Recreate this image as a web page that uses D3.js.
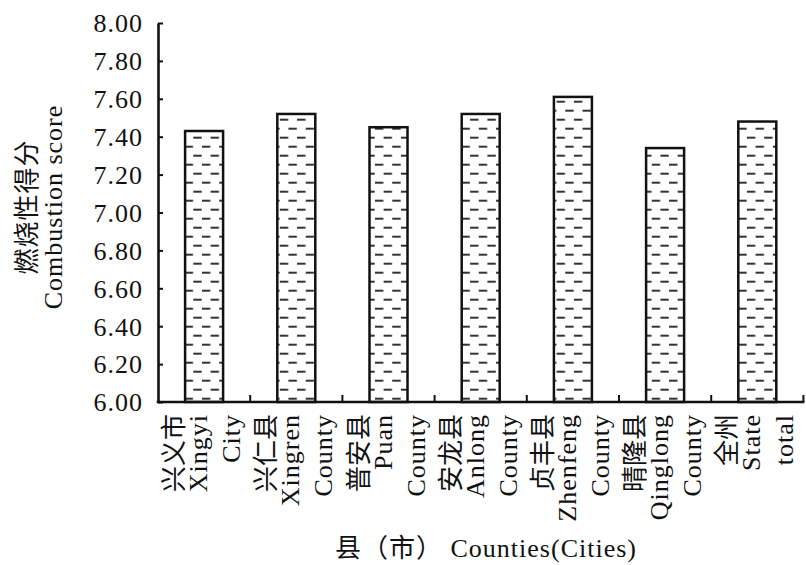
<!DOCTYPE html>
<html>
<head>
<meta charset="utf-8">
<script src="https://cdn.jsdelivr.net/npm/d3@7"></script>
<style>
  html, body { margin: 0; padding: 0; background: #fff; }
  svg { display: block; }
  text { font-family: "Liberation Serif", "Noto Sans CJK SC", serif; fill: #111; }
</style>
</head>
<body>
<svg id="chart" width="806" height="565"></svg>
<script>
// ---- data ----
const categories = ["Xingyi City", "Xingren County", "Puan County", "Anlong County", "Zhenfeng County", "Qinglong County", "State total"];
const labelCN = ["兴义市", "兴仁县", "普安县", "安龙县", "贞丰县", "晴隆县", "全州"];
const labelEN1 = ["Xingyi", "Xingren", "Puan", "Anlong", "Zhenfeng", "Qinglong", "State"];
const labelEN2 = ["City", "County", "County", "County", "County", "County", "total"];
const scores = [7.43, 7.52, 7.45, 7.52, 7.61, 7.34, 7.48];
const yTicks = [6.00, 6.20, 6.40, 6.60, 6.80, 7.00, 7.20, 7.40, 7.60, 7.80, 8.00];
const yTitleCN = "燃烧性得分";
const yTitleEN = "Combustion score";
const xTitle = "县（市） Counties(Cities)";

// ---- layout ----
const svg = d3.select("#chart");
const plotLeft = 158, plotRight = 803.4, plotTop = 23, plotBottom = 402;
const ink = "#111";

const x = d3.scaleBand().domain(categories).range([plotLeft, plotRight]).padding(0);
const y = d3.scaleLinear().domain([6, 8]).range([plotBottom, plotTop]);

// pattern
const defs = svg.append("defs");
const pw = 17.3, ph = 18;
const pat = defs.append("pattern")
  .attr("id", "dash")
  .attr("patternUnits", "userSpaceOnUse")
  .attr("width", pw).attr("height", ph)
  .attr("x", 193.3 % pw).attr("y", (334.7) % ph);
pat.append("rect").attr("width", pw).attr("height", ph).attr("fill", "#fff");
pat.append("rect").attr("x", 0).attr("y", 0).attr("width", 8.4).attr("height", 2).attr("fill", "#333");
pat.append("rect").attr("x", pw / 2).attr("y", ph / 2).attr("width", 8.4).attr("height", 2).attr("fill", "#333");

// bars
const barW = 38;
svg.append("g").selectAll("rect")
  .data(categories)
  .join("rect")
  .attr("x", (d) => x(d) + x.bandwidth() / 2 - barW / 2)
  .attr("y", (d, i) => y(scores[i]))
  .attr("width", barW)
  .attr("height", (d, i) => y(6) - y(scores[i]))
  .attr("fill", "url(#dash)")
  .attr("stroke", ink)
  .attr("stroke-width", 2.5);

// y axis
const yAxis = d3.axisLeft(y)
  .tickValues(yTicks)
  .tickSize(-5)
  .tickSizeOuter(0)
  .tickPadding(15)
  .tickFormat((d) => d.toFixed(2));
const gy = svg.append("g").attr("transform", `translate(${plotLeft},0)`).call(yAxis);
gy.select(".domain").attr("stroke", ink).attr("stroke-width", 2.6);
gy.selectAll(".tick line").attr("stroke", ink).attr("stroke-width", 2);
gy.selectAll(".tick text")
  .attr("font-size", 26)
  .attr("font-family", "'Liberation Serif', serif")
  .attr("letter-spacing", 1)
  .attr("fill", ink)
  .attr("dy", "0.34em");

// x axis line
svg.append("line")
  .attr("x1", plotLeft - 1.3).attr("x2", plotRight + 1)
  .attr("y1", plotBottom).attr("y2", plotBottom)
  .attr("stroke", ink).attr("stroke-width", 2.6);

// x ticks at band boundaries (pointing up)
svg.append("g").selectAll("line")
  .data(categories)
  .join("line")
  .attr("x1", (d) => x(d) + x.bandwidth())
  .attr("x2", (d) => x(d) + x.bandwidth())
  .attr("y1", plotBottom)
  .attr("y2", plotBottom - 7)
  .attr("stroke", ink).attr("stroke-width", 2);

// x category labels (rotated, 3 lines each)
const labelTop = 414;
const lines = [
  { arr: labelCN, off: -21, ls: 0 },
  { arr: labelEN1, off: 3, ls: 1 },
  { arr: labelEN2, off: 36, ls: 1 }
];
lines.forEach((ln) => {
  svg.append("g").selectAll("text")
    .data(categories)
    .join("text")
    .attr("transform", (d) => `translate(${x(d) + x.bandwidth() / 2 + ln.off},${labelTop}) rotate(-90)`)
    .attr("text-anchor", "end")
    .attr("font-size", 26)
    .attr("letter-spacing", ln.ls)
    .text((d, i) => ln.arr[i]);
});

// y title
const yMid = 207;
svg.append("text")
  .attr("transform", `translate(36,${yMid}) rotate(-90)`)
  .attr("text-anchor", "middle")
  .attr("font-size", 26)
  .attr("letter-spacing", 1)
  .text(yTitleCN);
svg.append("text")
  .attr("transform", `translate(62,${yMid}) rotate(-90)`)
  .attr("text-anchor", "middle")
  .attr("font-size", 26)
  .attr("letter-spacing", 1)
  .text(yTitleEN);

// x title
svg.append("text")
  .attr("x", 486).attr("y", 557)
  .attr("text-anchor", "middle")
  .attr("font-size", 26)
  .attr("letter-spacing", 1)
  .text(xTitle);
</script>
</body>
</html>
